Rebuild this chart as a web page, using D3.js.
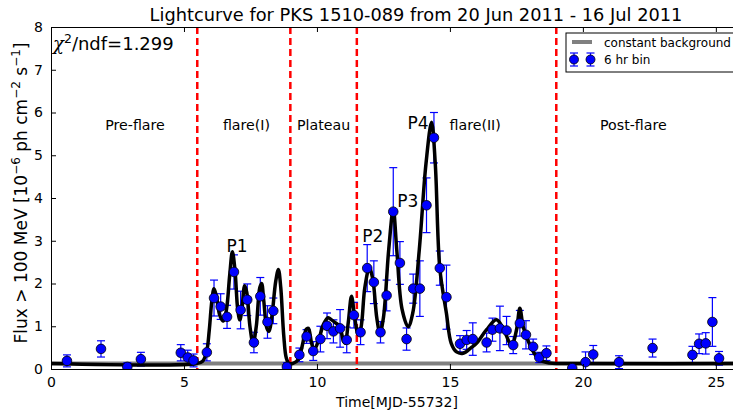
<!DOCTYPE html>
<meta charset="utf-8">
<style>
  body { margin: 0; background: #fff; }
  svg { font-family: "DejaVu Sans", sans-serif; }
</style>
<svg id="chart" width="733" height="414"></svg>
<script src="https://d3js.org/d3.v7.min.js"></script>
<script>

// 6 hr binned flux points
var binTime = [0.6, 1.88, 2.87, 3.38, 4.88, 5.14, 5.36, 5.86, 6.13, 6.38, 6.62, 6.88, 7.13, 7.38, 7.63, 7.87, 8.14, 8.36, 8.87,
  9.34, 9.61, 9.86, 10.13, 10.38, 10.62, 10.87, 11.12, 11.39, 11.64, 11.89, 12.14, 12.39, 12.62, 12.87, 13.12, 13.37, 13.62,
  13.87, 14.12, 14.4, 14.62, 14.87, 15.38, 15.63, 15.86, 16.38, 16.6, 16.88, 17.13, 17.38, 17.63, 17.86, 18.13, 18.36, 18.63,
  19.6, 20.1, 20.39, 21.36, 22.62, 24.12, 24.37, 24.62, 24.87, 25.12];
var binFlux = [0.19, 0.47, 0.05, 0.23, 0.38, 0.27, 0.20, 0.39, 1.66, 1.46, 1.22, 2.27, 1.38, 1.62, 0.62, 1.70, 1.10, 1.36, 0.05,
  0.33, 0.76, 0.42, 0.70, 1.01, 0.88, 0.95, 0.68, 1.26, 0.86, 2.36, 2.03, 0.86, 1.72, 3.68, 2.48, 0.70, 1.88,
  1.88, 3.83, 5.41, 2.36, 1.68, 0.59, 0.68, 0.70, 0.62, 0.92, 0.95, 0.90, 0.56, 1.07, 0.80, 0.52, 0.27, 0.37,
  0.02, 0.16, 0.34, 0.16, 0.49, 0.33, 0.59, 0.60, 1.10, 0.25];
var binErr = [0.14, 0.19, 0.10, 0.16, 0.19, 0.17, 0.15, 0.20, 0.42, 0.30, 0.27, 0.40, 0.44, 0.37, 0.24, 0.44, 0.38, 0.30, 0.10,
  0.16, 0.16, 0.22, 0.30, 0.30, 0.27, 0.44, 0.30, 0.30, 0.29, 0.55, 0.50, 0.25, 0.36, 1.03, 0.50, 0.26, 0.34,
  0.65, 0.64, 0.59, 0.40, 0.75, 0.19, 0.22, 0.38, 0.22, 0.27, 0.52, 0.33, 0.20, 0.30, 0.33, 0.18, 0.12, 0.17,
  0.10, 0.24, 0.21, 0.15, 0.21, 0.20, 0.23, 0.25, 0.57, 0.16];

// fitted light curve, sampled by eye
var fitTime = [0, 5.5, 5.7, 5.85, 5.95, 6.05, 6.13, 6.22, 6.35, 6.48, 6.6, 6.72, 6.82, 6.92, 7.02, 7.1, 7.18, 7.28, 7.36,
  7.48, 7.6, 7.72, 7.85, 7.92, 8.0, 8.12, 8.2, 8.3, 8.45, 8.55, 8.64, 8.75, 8.85, 8.95, 9.1, 9.3, 9.45, 9.6, 9.68,
  9.8, 9.9, 10.05, 10.25, 10.42, 10.55, 10.7, 10.85, 11.0, 11.06, 11.18, 11.3, 11.42, 11.55, 11.65, 11.8, 11.97, 12.1,
  12.25, 12.37, 12.5, 12.7, 12.87, 13.0, 13.2, 13.43, 13.6, 13.85, 14.1, 14.31, 14.45, 14.62, 14.87, 15.05, 15.25, 15.5,
  15.8, 16.0, 16.38, 16.75, 17.0, 17.32, 17.5, 17.63, 17.75, 17.88, 18.13, 18.38, 18.75, 19.2, 27.4];
var fitFlux = [0.13, 0.13, 0.18, 0.4, 0.9, 1.6, 1.88, 1.7, 1.25, 1.12, 1.4, 2.2, 2.74, 2.3, 1.4, 1.15, 1.4, 1.95, 1.8,
  1.0, 0.6, 1.0, 1.9, 2.0, 1.6, 0.95, 0.88, 1.2, 2.05, 2.33, 1.9, 0.8, 0.25, 0.13, 0.13, 0.22, 0.55, 0.93, 0.95,
  0.6, 0.45, 0.65, 1.05, 1.2, 1.15, 1.08, 1.0, 0.65, 0.6, 1.1, 1.7, 1.2, 0.82, 0.95, 1.9, 2.36, 2.1,
  1.2, 0.84, 1.2, 2.8, 3.73, 2.8, 1.4, 0.99, 1.3, 2.8, 4.8, 5.77, 4.8, 2.36, 1.3, 0.6, 0.4, 0.37,
  0.5, 0.6, 0.92, 1.15, 0.95, 0.56, 0.9, 1.42, 1.0, 0.76, 0.41, 0.21, 0.14, 0.13, 0.13];

var background = 0.13;
var phaseEdges = [5.5, 9.0, 11.5, 19.0];
var phaseNames = ["Pre-flare", "flare(I)", "Plateau", "flare(II)", "Post-flare"];
var phaseMid = [3.16, 7.35, 10.25, 15.95, 21.9];
var peakNames = ["P1", "P2", "P3", "P4"];
var peakTime = [7.0, 12.1, 13.42, 13.8];
var peakFlux = [2.73, 2.96, 3.78, 5.61];
var xTicks = [0, 5, 10, 15, 20, 25];
var yTicks = [0, 1, 2, 3, 4, 5, 6, 7, 8];

var svg = d3.select("#chart"),
    padL = 51, padR = 781, padT = 27, padB = 369;

var x = d3.scaleLinear().domain([0, 27.45]).range([padL, padR]);
var y = d3.scaleLinear().domain([0, 8]).range([padB, padT]);

svg.append("defs").append("clipPath").attr("id", "plotclip")
  .append("rect").attr("x", padL).attr("y", padT).attr("width", padR - padL).attr("height", padB - padT);

var plot = svg.append("g").attr("clip-path", "url(#plotclip)");

// constant background
plot.append("line")
    .attr("x1", x(0)).attr("x2", x(27.45))
    .attr("y1", y(background)).attr("y2", y(background))
    .attr("stroke", "#808080").attr("stroke-width", 4);

// phase boundaries
plot.selectAll("line.edge").data(phaseEdges).enter().append("line")
    .attr("class", "edge")
    .attr("x1", function(d) { return x(d); }).attr("x2", function(d) { return x(d); })
    .attr("y1", padT).attr("y2", padB)
    .attr("stroke", "#ff0000").attr("stroke-width", 2.5)
    .attr("stroke-dasharray", "7,4");

var pts = binTime.map(function(t, i) { return [t, binFlux[i], binErr[i]]; });

// error bars
var eb = plot.append("g").attr("stroke", "#0000ff").attr("stroke-width", 1.2);
pts.forEach(function(d) {
  var cx = x(d[0]), y0 = y(d[1] - d[2]), y1 = y(d[1] + d[2]);
  eb.append("line").attr("x1", cx).attr("x2", cx).attr("y1", y0).attr("y2", y1);
  eb.append("line").attr("x1", cx - 4).attr("x2", cx + 4).attr("y1", y0).attr("y2", y0);
  eb.append("line").attr("x1", cx - 4).attr("x2", cx + 4).attr("y1", y1).attr("y2", y1);
});

// fitted curve
var fit = fitTime.map(function(t, i) { return [t, fitFlux[i]]; });
var line = d3.line()
    .x(function(d) { return x(d[0]); })
    .y(function(d) { return y(d[1]); })
    .curve(d3.curveCatmullRom.alpha(0.5));

plot.append("path")
    .datum(fit)
    .attr("fill", "none")
    .attr("stroke", "#000")
    .attr("stroke-width", 3.5)
    .attr("stroke-linejoin", "round")
    .attr("d", line);

// markers
plot.selectAll("circle.pt").data(pts).enter().append("circle")
    .attr("class", "pt")
    .attr("cx", function(d) { return x(d[0]); })
    .attr("cy", function(d) { return y(d[1]); })
    .attr("r", 4.8)
    .attr("fill", "#0000ff")
    .attr("stroke", "#000")
    .attr("stroke-width", 0.8);

// axes, ticks pointing inward
var ax = svg.append("g");
ax.append("g").attr("transform", "translate(0," + padB + ")")
    .call(d3.axisBottom(x).tickValues(xTicks).tickSize(-5).tickPadding(8));
ax.append("g").attr("transform", "translate(0," + padT + ")")
    .call(d3.axisTop(x).tickValues(xTicks).tickSize(-5).tickFormat(""));
ax.append("g").attr("transform", "translate(" + padL + ",0)")
    .call(d3.axisLeft(y).tickValues(yTicks).tickSize(-5).tickPadding(8));
ax.selectAll("text").attr("font-family", "DejaVu Sans").attr("font-size", 14).attr("fill", "#000");
ax.selectAll(".domain").attr("stroke", "#000").attr("stroke-width", 1);
ax.selectAll(".tick line").attr("stroke", "#000");

// right spine (off canvas in the original)
svg.append("line").attr("x1", padR).attr("x2", padR).attr("y1", padT).attr("y2", padB).attr("stroke", "#000");

// phase names and peak labels
svg.selectAll("text.phase").data(phaseNames).enter().append("text")
    .attr("class", "phase")
    .attr("x", function(d, i) { return x(phaseMid[i]); })
    .attr("y", y(5.6))
    .attr("text-anchor", "middle")
    .attr("font-size", 14.2)
    .text(function(d) { return d; });

svg.selectAll("text.peak").data(peakNames).enter().append("text")
    .attr("class", "peak")
    .attr("x", function(d, i) { return x(peakTime[i]); })
    .attr("y", function(d, i) { return y(peakFlux[i]); })
    .attr("text-anchor", "middle")
    .attr("font-size", 17)
    .text(function(d) { return d; });

// title
svg.append("text")
    .attr("x", 416).attr("y", 21)
    .attr("text-anchor", "middle")
    .attr("font-size", 17.8)
    .text("Lightcurve for PKS 1510-089 from 20 Jun 2011 - 16 Jul 2011");

// x label
svg.append("text")
    .attr("x", 397).attr("y", 407)
    .attr("text-anchor", "middle")
    .attr("font-size", 14)
    .text("Time[MJD-55732]");

// y label
var yl = svg.append("text")
    .attr("transform", "translate(27,193) rotate(-90)")
    .attr("text-anchor", "middle")
    .attr("font-size", 17);
yl.append("tspan").text("Flux > 100 MeV [10");
yl.append("tspan").attr("dy", -7).attr("font-size", 12).text("\u22126");
yl.append("tspan").attr("dy", 7).text(" ph cm");
yl.append("tspan").attr("dy", -7).attr("font-size", 12).text("\u22122");
yl.append("tspan").attr("dy", 7).text(" s");
yl.append("tspan").attr("dy", -7).attr("font-size", 12).text("\u22121");
yl.append("tspan").attr("dy", 7).text("]");

// chi2 / ndf
var chi = svg.append("text").attr("x", 53).attr("y", 50).attr("font-size", 18);
chi.append("tspan").attr("font-family", "DejaVu Serif").attr("font-style", "italic").text("\u03c7");
chi.append("tspan").attr("dy", -7).attr("font-size", 12.5).text("2");
chi.append("tspan").attr("dy", 7).text("/ndf=1.299");

// legend
var lg = svg.append("g").attr("transform", "translate(566,33)");
lg.append("rect").attr("width", 210).attr("height", 39)
    .attr("fill", "#fff").attr("stroke", "#000").attr("stroke-width", 1);
lg.append("line").attr("x1", 6).attr("x2", 26).attr("y1", 9).attr("y2", 9)
    .attr("stroke", "#808080").attr("stroke-width", 4);
lg.append("text").attr("x", 38).attr("y", 14).attr("font-size", 12).text("constant background");
[8, 24.5].forEach(function(cx) {
  lg.append("line").attr("x1", cx).attr("x2", cx).attr("y1", 20).attr("y2", 33).attr("stroke", "#0000ff").attr("stroke-width", 1.2);
  lg.append("line").attr("x1", cx - 4).attr("x2", cx + 4).attr("y1", 20).attr("y2", 20).attr("stroke", "#0000ff").attr("stroke-width", 1.2);
  lg.append("line").attr("x1", cx - 4).attr("x2", cx + 4).attr("y1", 33).attr("y2", 33).attr("stroke", "#0000ff").attr("stroke-width", 1.2);
  lg.append("circle").attr("cx", cx).attr("cy", 26.5).attr("r", 4.5)
      .attr("fill", "#0000ff").attr("stroke", "#000").attr("stroke-width", 0.8);
});
lg.append("text").attr("x", 38).attr("y", 31).attr("font-size", 12).text("6 hr bin");

</script>
